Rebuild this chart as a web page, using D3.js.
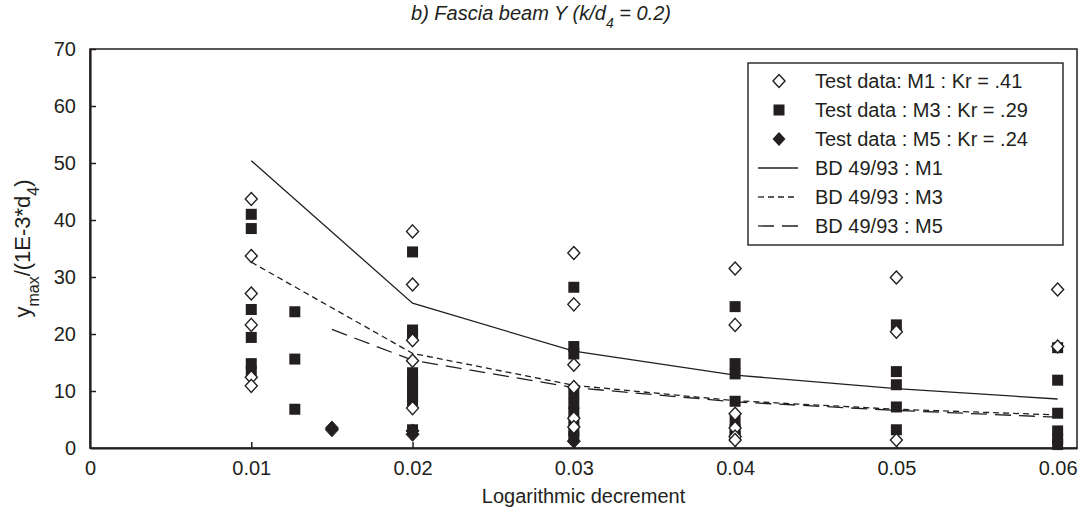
<!DOCTYPE html>
<html>
<head>
<meta charset="utf-8">
<script src="https://cdn.jsdelivr.net/npm/d3@7"></script>
<style>
  html, body { margin: 0; padding: 0; background: #fff; }
  svg { display: block; font-family: "Liberation Sans", Arial, sans-serif; }
</style>
</head>
<body>
<svg id="chart" width="1082" height="517"></svg>
<script>
// Tick values and labels
const xTicks = [0, 0.01, 0.02, 0.03, 0.04, 0.05, 0.06];
const xTickLabels = ["0", "0.01", "0.02", "0.03", "0.04", "0.05", "0.06"];
const yTicks = [0, 10, 20, 30, 40, 50, 60, 70];

// Test data M1 (Kr = .41): [decrement, value]
const testM1 = [
  [0.01, 43.7], [0.01, 33.7], [0.01, 27.1], [0.01, 21.6], [0.01, 12.4], [0.01, 10.9],
  [0.02, 38.0], [0.02, 28.7], [0.02, 18.9], [0.02, 15.3], [0.02, 7.0],
  [0.03, 34.2], [0.03, 25.2], [0.03, 14.6], [0.03, 10.7], [0.03, 5.2], [0.03, 3.7],
  [0.04, 31.5], [0.04, 21.6], [0.04, 6.0], [0.04, 3.5], [0.04, 2.0], [0.04, 1.4],
  [0.05, 29.9], [0.05, 20.4], [0.05, 1.4],
  [0.06, 27.8], [0.06, 17.8]
];

// Test data M3 (Kr = .29)
const testM3 = [
  [0.01, 41.0], [0.01, 38.5], [0.01, 24.3], [0.01, 19.4], [0.01, 14.8], [0.01, 13.4],
  [0.0127, 23.9], [0.0127, 15.6], [0.0127, 6.8],
  [0.02, 34.4], [0.02, 20.7], [0.02, 19.6], [0.02, 13.2], [0.02, 12.0], [0.02, 11.0],
  [0.02, 10.0], [0.02, 9.0], [0.02, 8.3], [0.02, 3.2],
  [0.03, 28.2], [0.03, 17.8], [0.03, 16.5], [0.03, 9.6], [0.03, 7.8], [0.03, 6.2],
  [0.03, 4.6], [0.03, 3.0], [0.03, 2.0],
  [0.04, 24.8], [0.04, 14.8], [0.04, 13.0], [0.04, 8.2], [0.04, 4.8], [0.04, 3.2], [0.04, 2.0],
  [0.05, 21.6], [0.05, 13.4], [0.05, 11.1], [0.05, 7.2], [0.05, 3.2],
  [0.06, 17.6], [0.06, 11.9], [0.06, 6.1], [0.06, 3.0], [0.06, 1.6], [0.06, 0.6]
];

// Test data M5 (Kr = .24)
const testM5 = [
  [0.015, 3.5], [0.015, 3.2],
  [0.02, 3.0], [0.02, 2.4],
  [0.03, 1.2]
];

// BD 49/93 design curves
const bdM1 = [[0.01, 50.4], [0.02, 25.4], [0.03, 17.0], [0.04, 12.8], [0.05, 10.4], [0.06, 8.6]];
const bdM3 = [[0.01, 32.6], [0.02, 16.6], [0.03, 11.0], [0.04, 8.3], [0.05, 6.8], [0.06, 5.8]];
const bdM5 = [[0.015, 20.8], [0.02, 15.4], [0.03, 10.6], [0.04, 8.1], [0.05, 6.6], [0.06, 5.4]];

const ink = "#231f20";
const svg = d3.select("#chart");

const plotLeft = 90, plotRight = 1077, plotTop = 49, plotBottom = 448;
const x = d3.scaleLinear().domain([0, 0.0612]).range([plotLeft, plotRight]);
const y = d3.scaleLinear().domain([0, 70]).range([plotBottom, plotTop]);

// Plot frame
svg.append("rect")
  .attr("x", plotLeft).attr("y", plotTop)
  .attr("width", plotRight - plotLeft).attr("height", plotBottom - plotTop)
  .attr("fill", "none").attr("stroke", ink).attr("stroke-width", 1.5);

// Axes with inward ticks
const xAxis = svg.append("g")
  .attr("transform", `translate(0,${plotBottom})`)
  .call(d3.axisBottom(x).tickValues(xTicks)
    .tickFormat((d, i) => xTickLabels[i])
    .tickSize(-6).tickSizeOuter(0).tickPadding(13));
const yAxis = svg.append("g")
  .attr("transform", `translate(${plotLeft},0)`)
  .call(d3.axisLeft(y).tickValues(yTicks)
    .tickSize(-6).tickSizeOuter(0).tickPadding(14));

[xAxis, yAxis].forEach(g => {
  g.select(".domain").attr("stroke", ink).attr("stroke-width", 2.2);
  g.selectAll(".tick line").attr("stroke", ink).attr("stroke-width", 1.5);
  g.selectAll(".tick text").attr("fill", ink).attr("font-size", 20)
    .attr("font-family", "Liberation Sans, Arial, sans-serif");
});
xAxis.selectAll(".tick").filter(d => d === 0).select("line").remove();
yAxis.selectAll(".tick").filter(d => d === 0).select("line").remove();

// Design curves
const line = d3.line().x(d => x(d[0])).y(d => y(d[1]));
const curveStyles = [
  { data: bdM1, dash: null },
  { data: bdM3, dash: "6,4" },
  { data: bdM5, dash: "16,8" }
];
curveStyles.forEach(c => {
  svg.append("path")
    .datum(c.data)
    .attr("d", line)
    .attr("fill", "none")
    .attr("stroke", ink)
    .attr("stroke-width", 1.3)
    .attr("stroke-dasharray", c.dash);
});

// Marker shapes
const diamondPath = "M0,-6.5L6,0L0,6.5L-6,0Z";
const solidDiamondPath = "M0,-7L6.5,0L0,7L-6.5,0Z";
const sq = 11;

svg.append("g").selectAll("rect")
  .data(testM3).join("rect")
  .attr("x", d => x(d[0]) - sq / 2)
  .attr("y", d => y(d[1]) - sq / 2)
  .attr("width", sq).attr("height", sq)
  .attr("fill", ink);

svg.append("g").selectAll("path")
  .data(testM1).join("path")
  .attr("d", diamondPath)
  .attr("transform", d => `translate(${x(d[0])},${y(d[1])})`)
  .attr("fill", "#fff").attr("stroke", ink).attr("stroke-width", 1.4);

svg.append("g").selectAll("path")
  .data(testM5).join("path")
  .attr("d", solidDiamondPath)
  .attr("transform", d => `translate(${x(d[0])},${y(d[1])})`)
  .attr("fill", ink).attr("stroke", ink).attr("stroke-width", 1);

// Legend
const legend = svg.append("g");
legend.append("rect")
  .attr("x", 748).attr("y", 63).attr("width", 315).attr("height", 182)
  .attr("fill", "#fff").attr("stroke", ink).attr("stroke-width", 1.4);

const legendItems = [
  { label: "Test data: M1 : Kr = .41", kind: "open" },
  { label: "Test data : M3 : Kr = .29", kind: "square" },
  { label: "Test data : M5 : Kr = .24", kind: "solid" },
  { label: "BD 49/93 : M1", kind: "line", dash: null },
  { label: "BD 49/93 : M3", kind: "line", dash: "6,4" },
  { label: "BD 49/93 : M5", kind: "line", dash: "16,8" }
];
const rowY = [81, 110, 139, 168, 197, 226];
legendItems.forEach((it, i) => {
  const cy = rowY[i];
  if (it.kind === "open") {
    legend.append("path").attr("d", diamondPath)
      .attr("transform", `translate(779,${cy})`)
      .attr("fill", "#fff").attr("stroke", ink).attr("stroke-width", 1.4);
  } else if (it.kind === "square") {
    legend.append("rect").attr("x", 779 - sq / 2).attr("y", cy - sq / 2)
      .attr("width", sq).attr("height", sq).attr("fill", ink);
  } else if (it.kind === "solid") {
    legend.append("path").attr("d", solidDiamondPath)
      .attr("transform", `translate(779,${cy})`).attr("fill", ink);
  } else {
    legend.append("line").attr("x1", 758).attr("x2", 798)
      .attr("y1", cy).attr("y2", cy)
      .attr("stroke", ink).attr("stroke-width", 1.3)
      .attr("stroke-dasharray", it.dash);
  }
  legend.append("text").attr("x", 815).attr("y", cy)
    .attr("dy", "0.35em").attr("font-size", 20).attr("fill", ink)
    .text(it.label);
});

// Title
const title = svg.append("text")
  .attr("x", 541).attr("y", 20)
  .attr("text-anchor", "middle")
  .attr("font-size", 20).attr("font-style", "italic").attr("fill", ink);
title.append("tspan").text("b) Fascia beam Y (k/d");
title.append("tspan").attr("baseline-shift", "sub").attr("font-size", 14).text("4");
title.append("tspan").text(" = 0.2)");

// X axis title
svg.append("text")
  .attr("x", (plotLeft + plotRight) / 2).attr("y", 503)
  .attr("text-anchor", "middle").attr("font-size", 20).attr("fill", ink)
  .text("Logarithmic decrement");

// Y axis title
const yTitle = svg.append("text")
  .attr("transform", `translate(30,${(plotTop + plotBottom) / 2}) rotate(-90)`)
  .attr("text-anchor", "middle").attr("font-size", 22).attr("fill", ink);
yTitle.append("tspan").text("y");
yTitle.append("tspan").attr("baseline-shift", "sub").attr("font-size", 16).text("max");
yTitle.append("tspan").text("/(1E-3*d");
yTitle.append("tspan").attr("baseline-shift", "sub").attr("font-size", 16).text("4");
yTitle.append("tspan").text(")");
</script>
</body>
</html>
